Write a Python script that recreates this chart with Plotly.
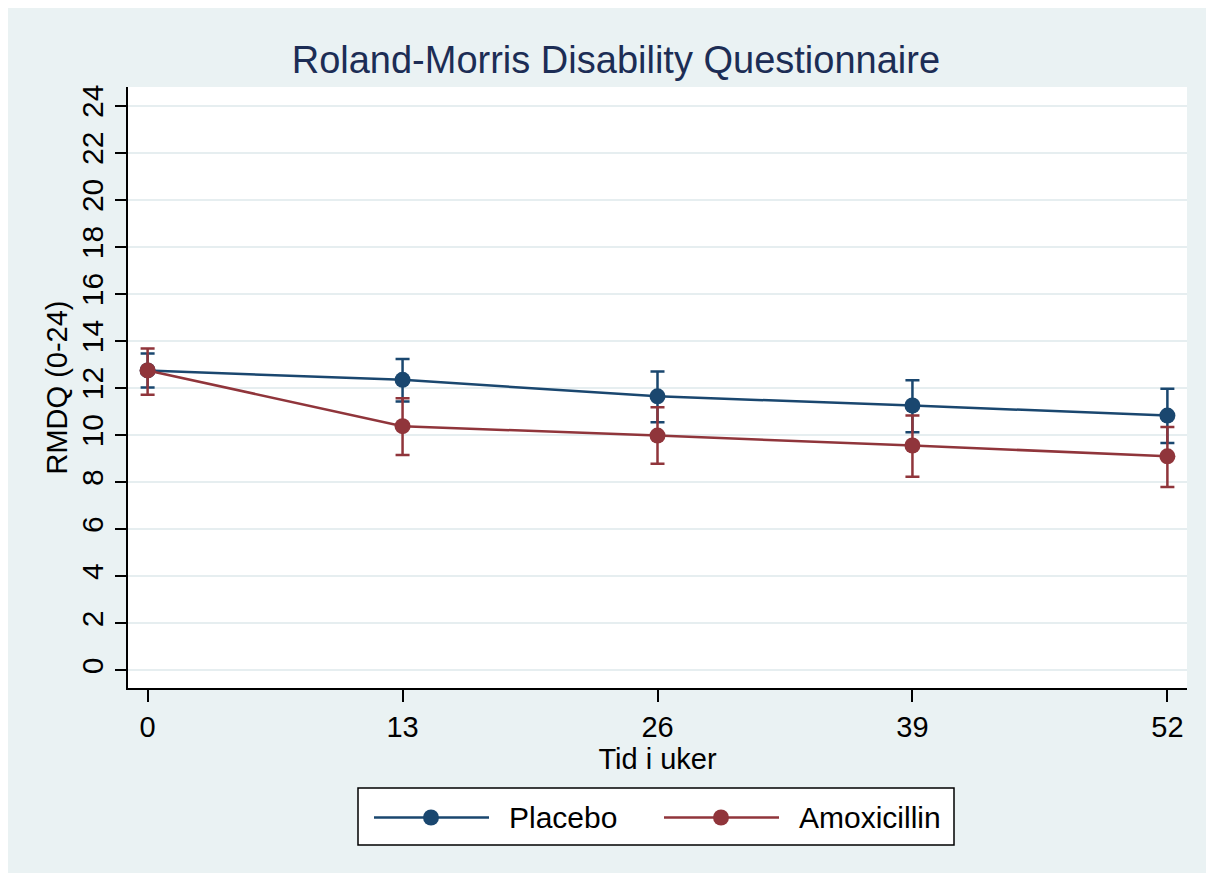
import plotly.graph_objects as go

# ---- data ----
weeks = [0, 13, 26, 39, 52]
placebo_mean = [12.75, 12.35, 11.65, 11.26, 10.83]
placebo_upper = [13.47, 13.24, 12.71, 12.33, 11.97]
placebo_lower = [12.02, 11.43, 10.55, 10.12, 9.67]
amox_mean = [12.75, 10.38, 9.98, 9.56, 9.10]
amox_upper = [13.68, 11.57, 11.19, 10.83, 10.35]
amox_lower = [11.72, 9.16, 8.78, 8.23, 7.80]
y_ticks = list(range(0, 25, 2))
series_names = ["Placebo", "Amoxicillin"]
colors = ["#1a476f", "#90353b"]

FONT = "Liberation Sans, Arial, sans-serif"
BG = "#eaf2f3"

fig = go.Figure()
for name, color, mean, up, lo in [
    (series_names[0], colors[0], placebo_mean, placebo_upper, placebo_lower),
    (series_names[1], colors[1], amox_mean, amox_upper, amox_lower),
]:
    fig.add_trace(go.Scatter(
        x=weeks, y=mean, name=name, mode="lines+markers",
        line=dict(color=color, width=2.5),
        marker=dict(color=color, size=16),
        error_y=dict(type="data", symmetric=False,
                     array=[u - m for u, m in zip(up, mean)],
                     arrayminus=[m - l for m, l in zip(mean, lo)],
                     color=color, thickness=2.5, width=7),
        showlegend=False,
    ))

# figure geometry (pixels inside the figure)
W, H = 1199, 865
ML, MR, MT, MB = 120, 20, 79, 185
PW, PH = W - ML - MR, H - MT - MB


def px_x(px):
    return (px - ML) / PW


def px_y(py):
    return (MT + PH - py) / PH


shapes = [
    dict(type="rect", xref="paper", yref="paper", layer="below",
         x0=0, x1=1, y0=0, y1=1, fillcolor="white", line=dict(width=0)),
]
annotations = []

# manual legend (Stata style: long line symbols)
box_l, box_r, box_t, box_b = 350, 946, 780, 837
line_y = 809.5
shapes.append(dict(type="rect", xref="paper", yref="paper",
                   x0=px_x(box_l), x1=px_x(box_r), y0=px_y(box_b), y1=px_y(box_t),
                   fillcolor="white", line=dict(color="black", width=1.5)))
entries = [(366, 481, 423, 499), (656, 771, 713, 789)]
for (lx0, lx1, mx, tx), name, color in zip(entries, series_names, colors):
    shapes.append(dict(type="line", xref="paper", yref="paper",
                       x0=px_x(lx0), x1=px_x(lx1), y0=px_y(line_y), y1=px_y(line_y),
                       line=dict(color=color, width=2.5)))
    shapes.append(dict(type="circle", xref="paper", yref="paper",
                       xsizemode="pixel", ysizemode="pixel",
                       xanchor=px_x(mx), yanchor=px_y(line_y),
                       x0=-8, x1=8, y0=-8, y1=8,
                       fillcolor=color, line=dict(color=color, width=0)))
    annotations.append(dict(xref="paper", yref="paper", x=px_x(tx), y=px_y(line_y),
                            xanchor="left", yanchor="middle", showarrow=False,
                            text=name, font=dict(family=FONT, size=30, color="black")))

fig.update_layout(
    width=W, height=H,
    margin=dict(l=ML, r=MR, t=MT, b=MB, pad=0),
    paper_bgcolor=BG, plot_bgcolor="white",
    font=dict(family=FONT, color="black"),
    title=dict(text="Roland-Morris Disability Questionnaire",
               x=0.507, xanchor="center", y=1 - 52 / H, yanchor="middle",
               font=dict(family=FONT, size=38, color="#1c2d55")),
    xaxis=dict(range=[-1, 53], tickvals=weeks, ticktext=[str(w) for w in weeks],
               showgrid=False, zeroline=False, showline=True, linecolor="black",
               linewidth=2, ticks="outside", ticklen=12, tickwidth=1.5, tickcolor="black",
               tickfont=dict(size=29, family=FONT),
               title=dict(text="Tid i uker", font=dict(size=29, family=FONT), standoff=1)),
    yaxis=dict(range=[-0.75, 24.8], tickvals=y_ticks, ticktext=[str(v) for v in y_ticks],
               showgrid=True, gridcolor="#e6eef0", gridwidth=2, zeroline=False,
               showline=True, linecolor="black", linewidth=2, ticks="outside",
               ticklen=11, tickwidth=1.5, tickcolor="black", tickangle=-90,
               tickfont=dict(size=30, family=FONT),
               title=dict(text="RMDQ (0-24)", font=dict(size=29, family=FONT), standoff=0)),
    shapes=shapes, annotations=annotations,
    showlegend=False,
)

fig.write_html("out.html")
